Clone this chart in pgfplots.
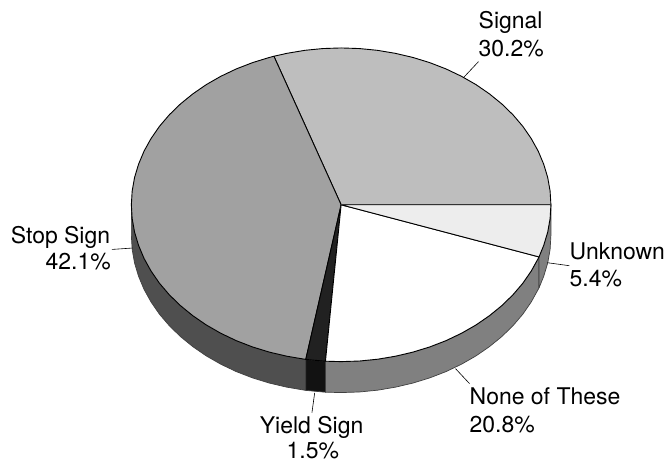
\documentclass[border=0pt]{standalone}
\usepackage{pgfplots}
\pgfplotsset{compat=1.18}
\usepackage{fontspec}
\setmainfont{TeX Gyre Heros}

% shares: Signal 30.2, Stop Sign 42.1, Yield Sign 1.5, None of These 20.8, Unknown 5.4
% everything is in the reference's pixels, y running down
\definecolor{sigtop}{gray}{0.745}
\definecolor{stoptop}{gray}{0.63}
\definecolor{stopside}{gray}{0.31}
\definecolor{yieldtop}{gray}{0.13}
\definecolor{yieldside}{gray}{0.07}
\definecolor{noneside}{gray}{0.5}
\definecolor{unktop}{gray}{0.93}

\tikzset{
  wedge/.style={draw=black, line width=0.9pt, line join=round},
  rim/.style={draw=black!75, line width=0.7pt, line join=round},
  leader/.style={draw=black, line width=0.6pt},
  lab/.style={anchor=base west, inner sep=0pt, font=\fontsize{23}{26}\selectfont},
}

\begin{document}
\begin{tikzpicture}
\begin{axis}[
    at={(0,0)}, anchor=south west,
    width=665pt, height=463pt, scale only axis,
    xmin=0, xmax=665, ymin=0, ymax=463,
    y dir=reverse,
    hide axis, clip=false,
]
% side of the pie
\addplot[rim, fill=stopside] coordinates {
  (131.5,205)(132.3,218.7)(134.7,232.3)(138.7,245.6)(144.2,258.7)(151.2,271.3)(159.6,283.5)
  (169.5,295.1)(180.6,305.9)(193.0,316.0)(206.5,325.3)(221.0,333.6)(236.5,341.0)(252.8,347.3)
  (269.7,352.5)(287.2,356.6)(306.1,359.8)
  (306.1,390.8)(287.2,387.6)(269.7,383.5)(252.8,378.3)(236.5,372.0)(221.0,364.6)(206.5,356.3)
  (193.0,347.0)(180.6,336.9)(169.5,326.1)(159.6,314.5)(151.2,302.3)(144.2,289.7)(138.7,276.6)
  (134.7,263.3)(132.3,249.7)(131.5,236)
} -- cycle;
\addplot[rim, fill=yieldside] coordinates {
  (306.1,359.8)(323.2,361.4)(325.8,361.6)(325.8,392.6)(323.2,392.4)(306.1,390.8)
} -- cycle;
\addplot[rim, fill=noneside] coordinates {
  (325.8,361.6)(341.5,362)(359.8,361.4)(378.0,359.6)(395.8,356.6)(413.3,352.5)(430.2,347.3)
  (446.5,341.0)(462.0,333.6)(476.5,325.3)(490.0,316.0)(502.4,305.9)(513.5,295.1)(523.4,283.5)
  (531.8,271.3)(539.6,257.2)
  (539.6,288.2)(531.8,302.3)(523.4,314.5)(513.5,326.1)(502.4,336.9)(490.0,347.0)(476.5,356.3)
  (462.0,364.6)(446.5,372.0)(430.2,378.3)(413.3,383.5)(395.8,387.6)(378.0,390.6)(359.8,392.4)
  (341.5,393)(325.8,392.6)
} -- cycle;
\addplot[rim, fill=noneside] coordinates {
  (539.6,257.2)(544.3,245.6)(548.3,232.3)(550.7,218.7)(551.5,205)
  (551.5,236)(550.7,249.7)(548.3,263.3)(544.3,276.6)(539.6,288.2)
} -- cycle;
% top of the pie
\addplot[wedge, fill=sigtop] coordinates {
  (341.5,205)(551.5,205)(550.7,191.3)(548.3,177.7)(544.3,164.4)(538.8,151.3)(531.8,138.7)
  (523.4,126.5)(513.5,114.9)(502.4,104.1)(490.0,94.0)(476.5,84.7)(462.0,76.4)(446.5,69.0)
  (430.2,62.7)(413.3,57.5)(395.8,53.4)(378.0,50.4)(359.8,48.6)(341.5,48)(323.2,48.6)
  (305.0,50.4)(287.2,53.4)(274.2,56.3)
} -- cycle;
\addplot[wedge, fill=stoptop] coordinates {
  (341.5,205)(274.2,56.3)(269.7,57.5)(252.8,62.7)(236.5,69.0)(221.0,76.4)(206.5,84.7)
  (193.0,94.0)(180.6,104.1)(169.5,114.9)(159.6,126.5)(151.2,138.7)(144.2,151.3)(138.7,164.4)
  (134.7,177.7)(132.3,191.3)(131.5,205)(132.3,218.7)(134.7,232.3)(138.7,245.6)(144.2,258.7)
  (151.2,271.3)(159.6,283.5)(169.5,295.1)(180.6,305.9)(193.0,316.0)(206.5,325.3)(221.0,333.6)
  (236.5,341.0)(252.8,347.3)(269.7,352.5)(287.2,356.6)(305.0,359.6)(306.1,359.8)
} -- cycle;
\addplot[wedge, fill=yieldtop] coordinates {
  (341.5,205)(306.1,359.8)(323.2,361.4)(325.8,361.6)
} -- cycle;
\addplot[wedge, fill=white] coordinates {
  (341.5,205)(325.8,361.6)(341.5,362)(359.8,361.4)(378.0,359.6)(395.8,356.6)(413.3,352.5)
  (430.2,347.3)(446.5,341.0)(462.0,333.6)(476.5,325.3)(490.0,316.0)(502.4,305.9)(513.5,295.1)
  (523.4,283.5)(531.8,271.3)(538.8,258.7)(539.6,257.2)
} -- cycle;
\addplot[wedge, fill=unktop] coordinates {
  (341.5,205)(539.6,257.2)(544.3,245.6)(548.3,232.3)(550.7,218.7)(551.5,205)
} -- cycle;
% the radius between Signal and Unknown is heavier in the reference
\addplot[draw=black!80, line width=1.4pt] coordinates {(341.5,205)(551.5,205)};
% leader lines
\addplot[leader] coordinates {(464,77.7)(479,61.7)};
\addplot[leader] coordinates {(112,249.7)(132.7,248.3)};
\addplot[leader] coordinates {(548,263)(570,266)};
\addplot[leader] coordinates {(456,369)(470,384)};
\addplot[leader] coordinates {(315,393.3)(312.3,413)};
% labels
\node[lab] at (axis cs:479,28.3) {Signal};
\node[lab] at (axis cs:479,56.7) {30.2\%};
\node[lab] at (axis cs:10.7,244) {Stop Sign};
\node[lab] at (axis cs:45.5,270) {42.1\%};
\node[lab] at (axis cs:570,260) {Unknown};
\node[lab] at (axis cs:570,286.7) {5.4\%};
\node[lab] at (axis cs:470,405) {None of These};
\node[lab] at (axis cs:470,432.7) {20.8\%};
\node[lab] at (axis cs:260,434) {Yield Sign};
\node[lab] at (axis cs:286.7,459) {1.5\%};
\end{axis}
\useasboundingbox (0,0) rectangle (665pt,463pt);
\end{tikzpicture}
\end{document}
